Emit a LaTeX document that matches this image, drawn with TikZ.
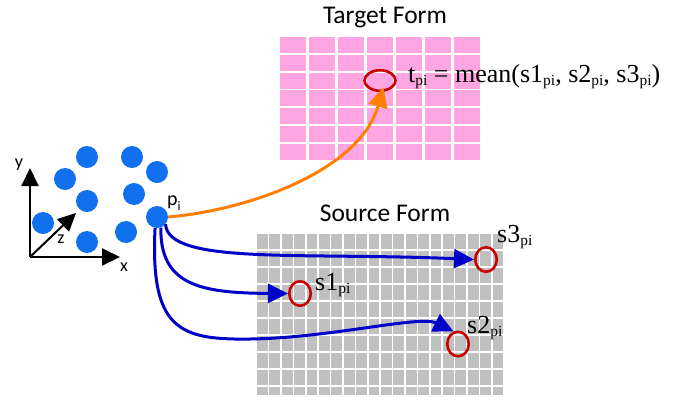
\documentclass[tikz,border=0pt]{standalone}
\usepackage{fontspec}
\setmainfont{Liberation Serif}
\setsansfont{Carlito}
\usetikzlibrary{arrows.meta,shapes.geometric}

\definecolor{dotblue}{RGB}{17,112,238}
\definecolor{linkblue}{RGB}{0,0,200}
\definecolor{ringred}{RGB}{200,0,0}
\definecolor{linkorange}{RGB}{255,128,0}
\definecolor{cellpink}{RGB}{255,166,226}
\definecolor{cellgray}{RGB}{192,192,192}

\newcommand{\pisub}{\raisebox{-3bp}{\fontsize{15.5bp}{16bp}\selectfont pi}}

\begin{document}
\begin{tikzpicture}[x=1bp, y=-1bp, >={Triangle[length=20bp,width=19bp]},
  dot/.style={circle, fill=dotblue, minimum size=22bp, inner sep=0pt},
  ring/.style={ellipse, draw=ringred, line width=2.6bp, inner sep=0pt,
    minimum width=21.5bp, minimum height=24.5bp},
  link/.style={->, draw=linkblue, line width=3bp},
  axis/.style={-{Triangle[length=18bp,width=17bp]}, line width=2bp},
  title/.style={font=\sffamily\fontsize{25.5bp}{28bp}\selectfont, anchor=base, inner sep=0pt},
  serifnote/.style={font=\fontsize{26bp}{30bp}\selectfont, anchor=base west, inner sep=0pt},
  axlabel/.style={font=\sffamily\fontsize{18bp}{20bp}\selectfont, anchor=base, inner sep=0pt}]
\useasboundingbox (0,0) rectangle (684,399);

% target form grid
\foreach \i in {0,...,6}
  \foreach \j in {0,...,6}
    \fill[cellpink] ({280+29*\i},{37+17.8*\j}) rectangle ++(26,16);
\node[title] (ttitle) at (385,23) {Target Form};

% source form grid
\begin{scope}
\clip (257,234) rectangle (503.5,394);
\foreach \i in {0,...,19}
  \foreach \j in {0,...,9}
    \fill[cellgray] ({257+12.4*\i},{234+17*\j}) rectangle ++(10.8,15.3);
\end{scope}
\node[title] (stitle) at (385,221) {Source Form};

% axes
\coordinate (o) at (30,257);
\coordinate (xend) at (120,257);
\coordinate (yend) at (30,168);
\coordinate (zend) at (76,213);
\draw[axis] (o) -- (xend);
\draw[axis] (o) -- (yend);
\draw[axis] (o) -- (zend);
\node[axlabel] (xlab) at (124,271) {x};
\node[axlabel] (ylab) at (19,167) {y};
\node[axlabel] (zlab) at (61,243) {z};

% point cloud
\foreach \name/\pos in {d1/{(87,157)}, d2/{(132,157)}, d3/{(65,179)},
    d4/{(157,172)}, d5/{(87,201)}, d6/{(134,194)}, d7/{(43,223)},
    d8/{(87,242)}, d9/{(126,232)}, pi/{(157,217)}}
  \node[dot] (\name) at \pos {};
\node[anchor=base west, inner sep=0pt, font=\sffamily\fontsize{20bp}{22bp}\selectfont]
  (pilab) at (167,205.6) {p\raisebox{-4.4bp}{\fontsize{13bp}{13bp}\selectfont i}};

% sampled points
\node[ring, minimum width=31bp, minimum height=20.5bp] (t) at (380,80.5) {};
\node[ring] (s1) at (300,293.5) {};
\node[ring] (s2) at (458,344) {};
\node[ring] (s3) at (486,259.5) {};

% labels
\node[serifnote] (tlab) at (408,82) {t\pisub{} = mean(s1\pisub, s2\pisub, s3\pisub)};
\node[serifnote] (s1lab) at (315,290) {s1\pisub};
\node[serifnote] (s2lab) at (467,333) {s2\pisub};
\node[serifnote] (s3lab) at (497,242.7) {s3\pisub};

% correspondences
\draw[->, draw=linkorange, line width=3bp, shorten >=-5bp]
  (pi.east) .. controls (250,210) and (360,170) .. (t.-80);
\draw[link] (pi.-40) .. controls (168,265) and (300,252) .. (s3.west);
\draw[link] (pi.-70) .. controls (160,285) and (200,293) .. (s1.west);
\draw[link] (pi.-100) .. controls (150,330) and (180,340) .. (250,339)
  .. controls (330,338) and (420,315) .. (s2.110);
\end{tikzpicture}
\end{document}
